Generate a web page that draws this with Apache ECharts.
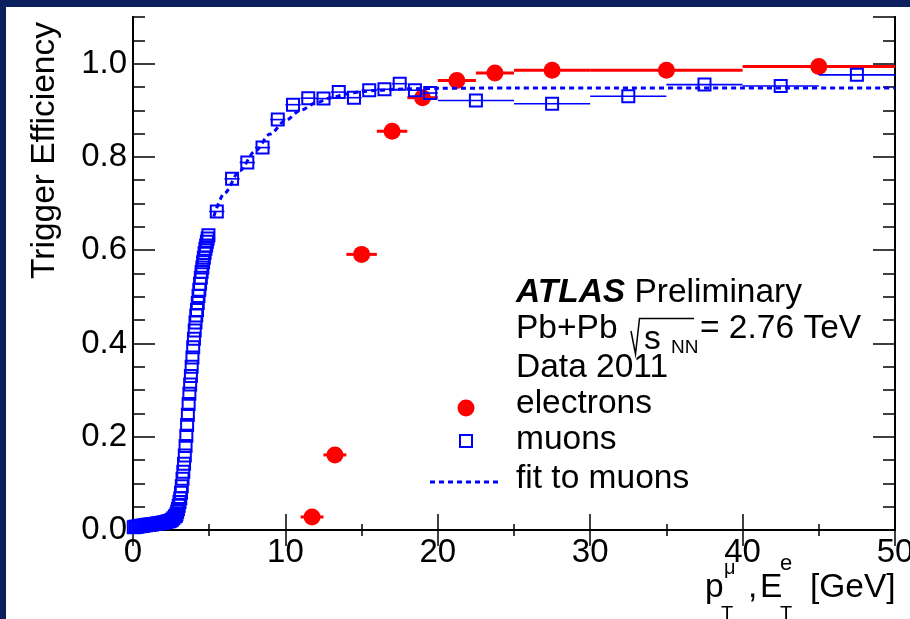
<!DOCTYPE html>
<html>
<head>
<meta charset="utf-8">
<script src="https://cdn.jsdelivr.net/npm/echarts@6/dist/echarts.min.js"></script>
<style>
html,body{margin:0;padding:0;background:#fff;overflow:hidden;width:910px;height:619px;}
#c{position:absolute;left:0;top:0;width:910px;height:619px;}
</style>
</head>
<body>
<div id="c"></div>
<script>
// ---------------- data ----------------
// electrons (red circles) with horizontal bin error bars
const eX  = [11.75, 13.25, 15.0, 17.0, 19.0, 21.25, 23.75, 27.5, 35.0, 45.0];
const eY  = [0.028, 0.161, 0.591, 0.855, 0.927, 0.964, 0.980, 0.986, 0.986, 0.994];
const eLo = [11.0, 12.5, 14.0, 16.0, 18.0, 20.0, 22.5, 25.0, 30.0, 40.0];
const eHi = [12.5, 14.0, 16.0, 18.0, 20.0, 22.5, 25.0, 30.0, 40.0, 50.0];

// muons, fine bins in the turn-on region
const muDenseX = [0.05,0.15,0.25,0.35,0.45,0.55,0.65,0.75,0.85,0.95,1.05,1.15,1.25,1.35,1.45,1.55,1.65,1.75,1.85,1.95,2.05,2.15,2.25,2.35,2.45,2.55,2.65,2.75,
  2.80,2.85,2.90,2.95,3.00,3.05,3.10,3.15,3.20,3.25,3.30,3.35,3.40,3.45,3.50,3.55,3.60,3.65,3.70,3.75,3.80,3.85,3.90,3.95,4.00,4.05,4.10,4.15,4.20,4.25,4.30,4.35,4.40,4.45,4.50,4.55,4.60,4.65,4.70,4.75,4.80,4.85,4.90,4.95];
const muDenseY = [0.006,0.007,0.007,0.008,0.008,0.009,0.009,0.010,0.010,0.011,0.011,0.012,0.012,0.013,0.013,0.014,0.014,0.015,0.015,0.016,0.016,0.017,0.018,0.019,0.020,0.022,0.025,0.029,
  0.030,0.034,0.039,0.045,0.052,0.060,0.068,0.080,0.094,0.110,0.125,0.142,0.160,0.180,0.202,0.225,0.247,0.270,0.292,0.312,0.330,0.350,0.370,0.392,0.410,0.428,0.445,0.460,0.472,0.487,0.502,0.515,0.528,0.541,0.553,0.563,0.574,0.584,0.594,0.603,0.610,0.618,0.625,0.632];

// muons, wider bins
const muX  = [5.5, 6.5, 7.5, 8.5, 9.5, 10.5, 11.5, 12.5, 13.5, 14.5, 15.5, 16.5, 17.5, 18.5, 19.5, 22.5, 27.5, 32.5, 37.5, 42.5, 47.5];
const muY  = [0.683, 0.753, 0.788, 0.820, 0.880, 0.912, 0.926, 0.925, 0.939, 0.927, 0.943, 0.945, 0.957, 0.943, 0.937, 0.921, 0.914, 0.930, 0.955, 0.952, 0.976];
const muLo = [5, 6, 7, 8, 9, 10, 11, 12, 13, 14, 15, 16, 17, 18, 19, 20, 25, 30, 35, 40, 45];
const muHi = [6, 7, 8, 9, 10, 11, 12, 13, 14, 15, 16, 17, 18, 19, 20, 25, 30, 35, 40, 45, 50];

// fit to muons
const fitX = [5.3, 6, 7, 8, 9, 10, 11, 12, 13, 14, 15, 16, 18, 20, 25, 30, 40, 50];
const fitY = [0.672, 0.722, 0.770, 0.812, 0.849, 0.878, 0.900, 0.916, 0.927, 0.935, 0.940, 0.943, 0.946, 0.947, 0.948, 0.948, 0.948, 0.948];

const xTicks = [0, 10, 20, 30, 40, 50];
const yTicks = ['0.0', '0.2', '0.4', '0.6', '0.8', '1.0'];

// ---------------- chart ----------------
const FONT = 'Liberation Sans, Arial, Helvetica, sans-serif';
const RED = '#ff0000', BLUE = '#0000ff', NAVY = '#0b1f5e';
const chart = echarts.init(document.getElementById('c'), null, {renderer: 'canvas', width: 910, height: 619});

const zip = (a, b) => a.map((v, i) => [v, b[i]]);
const eBars = eX.map((_, i) => [eLo[i], eHi[i], eY[i]]);
const muBars = muX.map((_, i) => [muLo[i], muHi[i], muY[i]]);

function barRenderer(color, width) {
  return function (params, api) {
    const p1 = api.coord([api.value(0), api.value(2)]);
    const p2 = api.coord([api.value(1), api.value(2)]);
    return {type: 'line', shape: {x1: p1[0], y1: p1[1], x2: p2[0], y2: p2[1]},
      style: {stroke: color, lineWidth: width}};
  };
}

const axLine = {show: true, lineStyle: {color: '#000', width: 2}};
const common = {type: 'value', splitLine: {show: false}, axisPointer: {show: false}};

function xAx(pos, showLabel) {
  return Object.assign({}, common, {
    position: pos, min: 0, max: 50, interval: 10,
    axisLine: axLine,
    axisTick: {show: true, inside: true, length: 16, lineStyle: {color: '#000', width: 1.5}},
    minorTick: {show: true, splitNumber: 2, length: 6, lineStyle: {color: '#000', width: 1.5}},
    axisLabel: {show: showLabel, color: '#000', fontSize: 33, fontFamily: FONT, margin: 6,
      formatter: v => xTicks.indexOf(v) >= 0 ? String(v) : ''}
  });
}
function yAx(pos, major, showLabel) {
  return Object.assign({}, common, {
    position: pos, min: 0, max: 1.1, interval: major ? 0.2 : 0.05,
    axisLine: axLine,
    axisTick: {show: true, inside: true, length: major ? 22 : 12, lineStyle: {color: '#000', width: 1.5}},
    axisLabel: {show: showLabel, color: '#000', fontSize: 33, fontFamily: FONT, margin: 6,
      showMaxLabel: false,
      formatter: v => { const s = v.toFixed(1); return (Math.abs(v * 5 - Math.round(v * 5)) < 1e-6 && yTicks.indexOf(s) >= 0) ? s : ''; }}
  });
}

const FS = 33.5;
const txt = (x, y, text, fs, extra) => ({
  type: 'text', x: x, y: y, z: 100,
  style: Object.assign({text: text, fill: '#000', fontSize: fs, fontFamily: FONT, align: 'left', verticalAlign: 'middle'}, extra || {})
});

const option = {
  backgroundColor: '#ffffff',
  animation: false,
  grid: {left: 133, top: 17, right: 15, bottom: 89, containLabel: false, outerBoundsMode: 'none'},
  xAxis: [xAx('bottom', true), xAx('top', false)],
  yAxis: [yAx('left', true, true), yAx('left', false, false), yAx('right', true, false), yAx('right', false, false)],
  series: [
    {type: 'custom', name: 'eBars', data: eBars, renderItem: barRenderer(RED, 3), z: 2,
      encode: {x: [0, 1], y: 2}},
    {type: 'scatter', name: 'electrons', data: zip(eX, eY), symbol: 'circle', symbolSize: 17,
      itemStyle: {color: RED, opacity: 1}, z: 3},
    {type: 'custom', name: 'muBars', data: muBars, renderItem: barRenderer(BLUE, 1.6), z: 4,
      encode: {x: [0, 1], y: 2}},
    {type: 'scatter', name: 'muonsDense', data: zip(muDenseX, muDenseY), symbol: 'rect', symbolSize: 12,
      itemStyle: {color: 'rgba(255,255,255,0)', borderColor: BLUE, borderWidth: 2, opacity: 1}, z: 5},
    {type: 'scatter', name: 'muons', data: zip(muX, muY), symbol: 'rect', symbolSize: 12,
      itemStyle: {color: 'rgba(255,255,255,0)', borderColor: BLUE, borderWidth: 2, opacity: 1}, z: 5},
    {type: 'line', name: 'fit', data: zip(fitX, fitY), showSymbol: false, symbol: 'none',
      smooth: 0.3, smoothMonotone: 'x',
      lineStyle: {color: BLUE, width: 3, type: [5, 4]}, z: 6}
  ],
  graphic: [
    // navy slide border
    {type: 'rect', shape: {x: 0, y: 0, width: 910, height: 7}, style: {fill: NAVY}, z: 200},
    {type: 'rect', shape: {x: 0, y: 0, width: 6, height: 619}, style: {fill: NAVY}, z: 200},
    // y title
    {type: 'text', x: 45, y: 22, rotation: Math.PI / 2, z: 100,
      style: {text: 'Trigger Efficiency', fill: '#000', fontSize: 33.5, fontFamily: FONT, align: 'right', verticalAlign: 'middle'}},
    // x title
    txt(705, 588, 'p', FS),
    txt(724, 568, 'μ', 20),
    txt(721, 614, 'T', 20),
    txt(748, 588, ',', FS),
    txt(760, 588, 'E', FS),
    txt(780, 564, 'e', 22),
    txt(780, 614, 'T', 20),
    txt(810, 588, '[GeV]', FS),
    // text block
    {type: 'text', x: 516, y: 293, z: 100,
      style: {text: '{b|ATLAS} Preliminary', fill: '#000', fontSize: FS, fontFamily: FONT, align: 'left', verticalAlign: 'middle',
        rich: {b: {fontWeight: 'bold', fontStyle: 'italic', fontSize: FS, fontFamily: FONT, fill: '#000'}}}},
    txt(516, 329, 'Pb+Pb', FS),
    {type: 'polyline', z: 100, shape: {points: [[631, 331], [635.5, 354], [639.5, 318.5], [694, 318.5]]},
      style: {stroke: '#000', lineWidth: 1.5, fill: null}},
    txt(644, 340, 's', FS),
    txt(671, 348, 'NN', 19),
    txt(700, 329, '= 2.76 TeV', FS),
    txt(516, 368, 'Data 2011', FS),
    txt(516, 404, 'electrons', FS),
    txt(516, 440, 'muons', FS),
    txt(516, 479, 'fit to muons', FS),
    // legend markers
    {type: 'circle', shape: {cx: 466, cy: 408, r: 8.5}, style: {fill: RED}, z: 100},
    {type: 'rect', shape: {x: 460, y: 435, width: 12, height: 12}, style: {fill: null, stroke: BLUE, lineWidth: 2}, z: 100},
    {type: 'line', shape: {x1: 430, y1: 482, x2: 500, y2: 482}, style: {stroke: BLUE, lineWidth: 3, lineDash: [5, 4]}, z: 100}
  ]
};
chart.setOption(option);
</script>
</body>
</html>
